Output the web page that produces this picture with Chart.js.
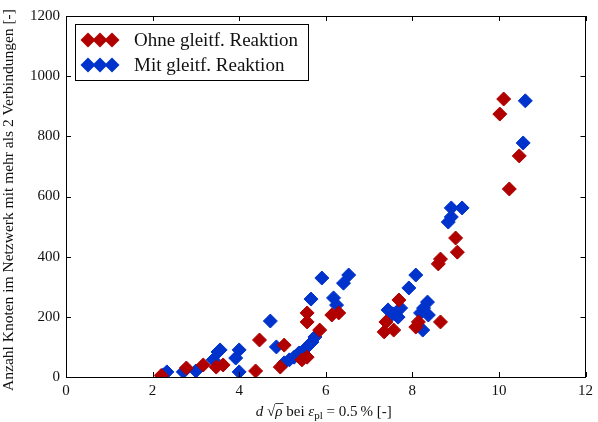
<!DOCTYPE html>
<html>
<head>
<meta charset="utf-8">
<script src="https://cdn.jsdelivr.net/npm/chart.js@4.4.1/dist/chart.umd.min.js"></script>
<style>
  html, body { margin: 0; padding: 0; background: #fff; }
  #wrap { width: 598px; height: 422px; }
</style>
</head>
<body>
<div id="wrap"><canvas id="plot"></canvas></div>
<script>
// Werte
var serien = ['Ohne gleitf. Reaktion', 'Mit gleitf. Reaktion'];

var ohneX = [2.2, 2.78, 3.17, 3.47, 3.63, 4.38, 4.47, 4.95, 5.04, 5.45, 5.57, 5.57, 5.57, 5.86, 6.14, 6.3,
             7.35, 7.39, 7.57, 7.69, 8.08, 8.14, 8.65, 8.6, 8.65, 9.04, 9.0, 10.02, 10.11, 10.47, 10.24];
var ohneY = [5, 30, 40, 33, 40, 20, 123, 33, 106, 57, 66, 213, 183, 156, 206, 213,
             150, 183, 156, 256, 166, 183, 183, 376, 392, 415, 462, 874, 924, 735, 625];

var mitX = [2.25, 2.33, 2.71, 3.0, 3.4, 3.51, 3.56, 3.92, 4.0, 4.0, 4.72, 4.86, 5.04, 5.16, 5.27, 5.38, 5.5,
            5.59, 5.68, 5.75, 5.66, 5.91, 6.18, 6.25, 6.41, 6.53, 7.44, 7.73, 7.67, 7.55, 7.92, 8.08,
            8.19, 8.26, 8.35, 8.37, 8.24, 8.83, 8.9, 8.9, 9.15, 10.56, 10.61];
var mitY = [7, 17, 17, 20, 57, 83, 90, 63, 90, 17, 186, 100, 47, 57, 66, 80, 90,
            103, 116, 133, 259, 329, 263, 239, 312, 339, 223, 229, 199, 210, 296, 339,
            213, 229, 249, 206, 156, 515, 532, 562, 562, 778, 918];

var xTicks = [0, 2, 4, 6, 8, 10, 12];
var yTicks = [0, 200, 400, 600, 800, 1000, 1200];

var rot = '#b00000';
var blau = '#0033cc';
var serif = '"Liberation Serif", "DejaVu Serif", serif';

function punkte(xs, ys) {
    return xs.map(function (x, i) { return { x: x, y: ys[i] }; });
}

// Rahmen, Ticks nach innen, Achsentitel und Legende selbst zeichnen
var rahmen = {
    id: 'rahmen',
    afterDraw: function (chart) {
        var ctx = chart.ctx;
        var a = chart.chartArea;
        var sx = chart.scales.x, sy = chart.scales.y;
        ctx.save();
        ctx.strokeStyle = '#000';
        ctx.lineWidth = 1;
        ctx.strokeRect(Math.round(a.left) + 0.5, Math.round(a.top) + 0.5,
                       Math.round(a.right - a.left) - 1, Math.round(a.bottom - a.top));
        ctx.beginPath();
        xTicks.forEach(function (t) {
            var px = Math.round(sx.getPixelForValue(t)) + 0.5;
            ctx.moveTo(px, a.bottom); ctx.lineTo(px, a.bottom - 5);
            ctx.moveTo(px, a.top); ctx.lineTo(px, a.top + 5);
        });
        yTicks.forEach(function (t) {
            var py = Math.round(sy.getPixelForValue(t)) + 0.5;
            ctx.moveTo(a.left, py); ctx.lineTo(a.left + 5, py);
            ctx.moveTo(a.right, py); ctx.lineTo(a.right - 5, py);
        });
        ctx.stroke();

        // y-Titel
        ctx.fillStyle = '#111';
        ctx.font = '15.5px ' + serif;
        ctx.textAlign = 'center';
        ctx.textBaseline = 'alphabetic';
        ctx.translate(13, 200);
        ctx.rotate(-Math.PI / 2);
        ctx.fillText('Anzahl Knoten im Netzwerk mit mehr als 2 Verbindungen [-]', 0, 0);
        ctx.restore();

        // x-Titel mit Formelteilen
        ctx.save();
        ctx.fillStyle = '#111';
        ctx.textBaseline = 'alphabetic';
        ctx.textAlign = 'left';
        var teile = [
            { t: 'd', f: 'italic 15px ' + serif },
            { t: ' \u221A', f: '15px ' + serif },
            { t: '\u03C1', f: 'italic 15px ' + serif, wurzel: true },
            { t: ' bei ', f: '15px ' + serif },
            { t: '\u03B5', f: 'italic 15px ' + serif },
            { t: 'pl', f: '11px ' + serif, sub: true },
            { t: ' = 0.5\u2009% [-]', f: '15px ' + serif }
        ];
        var breite = 0;
        teile.forEach(function (p) { ctx.font = p.f; p.w = ctx.measureText(p.t).width; breite += p.w; });
        var x0 = (a.left + a.right) / 2 - breite / 2 - 2;
        var base = 416;
        teile.forEach(function (p) {
            ctx.font = p.f;
            ctx.fillText(p.t, x0, p.sub ? base + 3 : base);
            if (p.wurzel) {
                ctx.beginPath();
                ctx.strokeStyle = '#111';
                ctx.lineWidth = 0.8;
                ctx.moveTo(x0, base - 12.5); ctx.lineTo(x0 + p.w + 1, base - 12.5);
                ctx.stroke();
            }
            x0 += p.w;
        });
        ctx.restore();

        // Legende mit drei Rauten je Eintrag
        ctx.save();
        ctx.fillStyle = '#fff';
        ctx.fillRect(76, 25, 232, 55);
        ctx.strokeStyle = '#000';
        ctx.lineWidth = 1;
        ctx.strokeRect(75.5, 24.5, 233, 56);
        var farben = [rot, blau];
        farben.forEach(function (c, i) {
            var yy = 40 + i * 25;
            [88, 100, 112].forEach(function (xx) {
                ctx.beginPath();
                ctx.moveTo(xx - 7.5, yy); ctx.lineTo(xx, yy - 7.5);
                ctx.lineTo(xx + 7.5, yy); ctx.lineTo(xx, yy + 7.5);
                ctx.closePath();
                ctx.fillStyle = c;
                ctx.fill();
            });
            ctx.fillStyle = '#111';
            ctx.font = '19px ' + serif;
            ctx.textBaseline = 'alphabetic';
            ctx.fillText(serien[i], 134, yy + 6);
        });
        ctx.restore();
    }
};

var ctx = document.getElementById('plot').getContext('2d');
var myChart = new Chart(ctx, {
    type: 'scatter',
    data: {
        datasets: [{
            label: serien[0],
            data: punkte(ohneX, ohneY),
            pointStyle: 'rectRot',
            pointRadius: 7,
            pointBorderWidth: 1,
            backgroundColor: rot,
            borderColor: rot
        }, {
            label: serien[1],
            data: punkte(mitX, mitY),
            pointStyle: 'rectRot',
            pointRadius: 7,
            pointBorderWidth: 1,
            backgroundColor: blau,
            borderColor: blau
        }]
    },
    options: {
        responsive: true,
        maintainAspectRatio: false,
        animation: false,
        layout: { padding: { top: 16, right: 6, left: 0, bottom: 0 } },
        plugins: {
            legend: { display: false },
            tooltip: { enabled: false }
        },
        scales: {
            x: {
                type: 'linear',
                min: 0,
                max: 12,
                afterFit: function (s) { s.height = 45; },
                afterBuildTicks: function (s) { s.ticks = xTicks.map(function (v) { return { value: v }; }); },
                grid: { display: false, drawTicks: false },
                border: { display: false },
                ticks: {
                    padding: 5, color: '#111', font: { family: serif, size: 15 },
                    callback: function (v) { return String(v); }
                }
            },
            y: {
                type: 'linear',
                min: 0,
                max: 1200,
                afterFit: function (s) { s.width = 66; },
                afterBuildTicks: function (s) { s.ticks = yTicks.map(function (v) { return { value: v }; }); },
                grid: { display: false, drawTicks: false },
                border: { display: false },
                ticks: {
                    padding: 6, color: '#111', font: { family: serif, size: 15 },
                    callback: function (v) { return String(v); }
                }
            }
        }
    },
    plugins: [rahmen]
});
</script>
</body>
</html>
